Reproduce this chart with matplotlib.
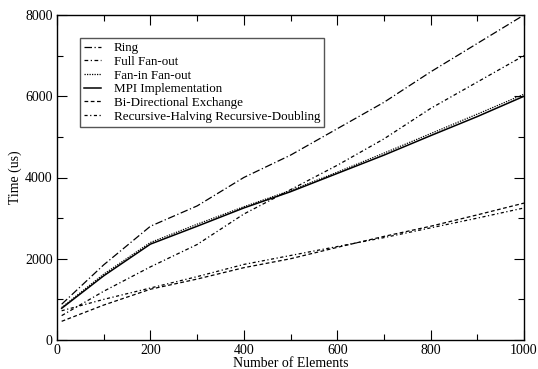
import matplotlib
matplotlib.use('Agg')
import matplotlib.pyplot as plt
from matplotlib.ticker import MultipleLocator

plt.rcParams['font.family'] = ['Liberation Serif', 'DejaVu Serif']

# ---- data ----
elements = [10, 100, 200, 300, 400, 500, 600, 700, 800, 900, 1000]
ring = [880, 1850, 2800, 3300, 4000, 4550, 5200, 5850, 6600, 7300, 8000]
full_fanout = [600, 1200, 1800, 2350, 3100, 3700, 4300, 4950, 5700, 6350, 7000]
fanin_fanout = [800, 1620, 2400, 2850, 3280, 3680, 4130, 4600, 5080, 5560, 6050]
mpi = [780, 1580, 2360, 2800, 3250, 3650, 4100, 4550, 5030, 5500, 6000]
bidir = [460, 860, 1250, 1500, 1780, 2000, 2280, 2550, 2800, 3080, 3370]
rec_halving = [720, 1000, 1280, 1560, 1860, 2080, 2300, 2520, 2760, 3000, 3250]

labels = ['Ring', 'Full Fan-out', 'Fan-in Fan-out', 'MPI Implementation',
          'Bi-Directional Exchange', 'Recursive-Halving Recursive-Doubling']
series = [ring, full_fanout, fanin_fanout, mpi, bidir, rec_halving]
styles = [(0, (6, 2, 1, 2)), (0, (3, 2, 1, 2)), (0, (1, 1)), '-',
          (0, (3, 2)), (0, (2.5, 2, 1, 2))]
widths = [0.9, 0.9, 0.9, 1.1, 0.9, 0.9]

#=======================================================
fig = plt.figure(figsize=(5.38, 3.69), dpi=100)
ax = fig.add_axes([57/538, 29/369, 467/538, 325/369])

for ys, lab, ls, lw in zip(series, labels, styles, widths):
    ax.plot(elements, ys, color='black', linestyle=ls, linewidth=lw, label=lab)

ax.set_xlim(0, 1000)
ax.set_ylim(0, 8000)
ax.xaxis.set_major_locator(MultipleLocator(200))
ax.xaxis.set_minor_locator(MultipleLocator(100))
ax.yaxis.set_major_locator(MultipleLocator(2000))
ax.yaxis.set_minor_locator(MultipleLocator(1000))
ax.tick_params(which='both', direction='in', top=True, right=True,
               labelsize=10, width=0.8)
ax.tick_params(which='major', length=7, pad=3)
ax.tick_params(which='minor', length=4)
for sp in ax.spines.values():
    sp.set_linewidth(1.0)

ax.set_xlabel('Number of Elements', fontsize=10, labelpad=0)
ax.set_ylabel('Time (us)', fontsize=10, labelpad=2)

leg = ax.legend(loc='upper left', bbox_to_anchor=(0.049, 0.929), fontsize=9.4,
                handlelength=1.3, handletextpad=1.0, labelspacing=0.12,
                borderpad=0.3, fancybox=False, framealpha=1, borderaxespad=0)
leg.get_frame().set_edgecolor('#555555')
leg.get_frame().set_linewidth(1.0)

fig.savefig('out.png', dpi=100)
